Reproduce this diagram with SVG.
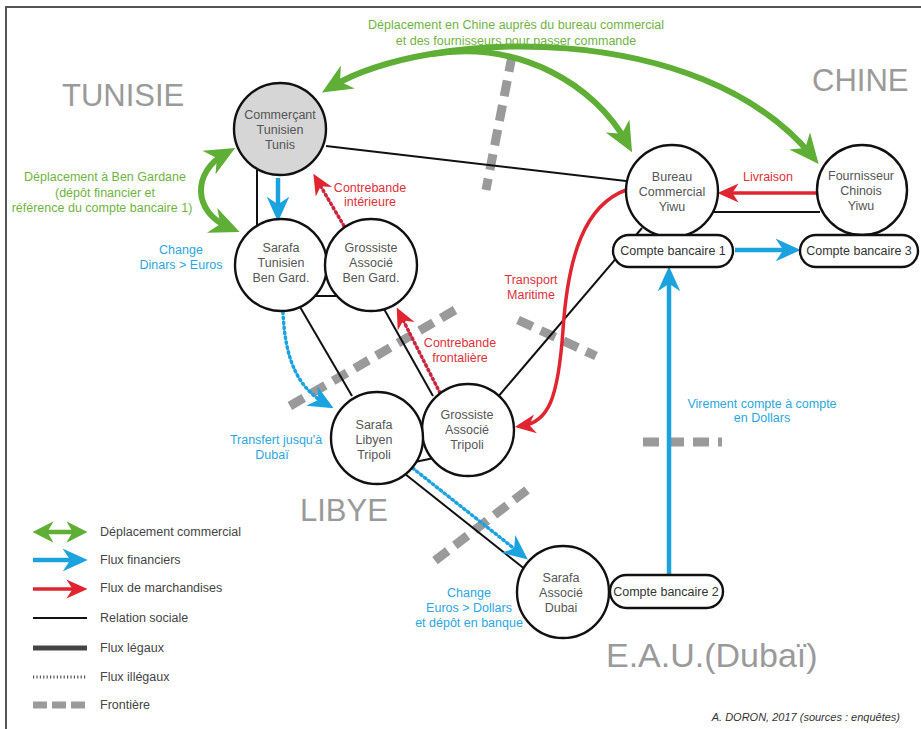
<svg xmlns="http://www.w3.org/2000/svg" width="921" height="729" viewBox="0 0 921 729">
<style>
text{font-family:"Liberation Sans","Open Sans",Arial,sans-serif;font-size:12.5px}
.node circle{fill:#fff;stroke:#111;stroke-width:2.4}
.node rect{fill:#fff;stroke:#111;stroke-width:2.4}
.nt{fill:#555;text-anchor:middle}
.region{fill:#9a9a9a;font-size:31px}
.soc{stroke:#111;stroke-width:2;fill:none}
.green{stroke:#5fae35;stroke-width:6;fill:none}
.blue{stroke:#1ba3df;stroke-width:4.5;fill:none}
.bluedot{stroke:#1ba3df;stroke-width:3.5;fill:none;stroke-dasharray:1.5 3.5;stroke-linecap:round}
.red{stroke:#e02430;stroke-width:3.5;fill:none}
.reddot{stroke:#c8283e;stroke-width:3.5;fill:none;stroke-dasharray:1.5 3.5;stroke-linecap:round}
.front{stroke:#9a9a9a;stroke-width:9;fill:none;stroke-dasharray:16 9}
.lg{fill:#6fb33f;text-anchor:middle}
.lb{fill:#2ba6e0;text-anchor:middle}
.lr{fill:#e0303a;text-anchor:middle}
.leg{fill:#444}
</style>
<defs>
<marker id="mg" viewBox="0 0 20 20" refX="13" refY="10" markerWidth="30" markerHeight="30" markerUnits="userSpaceOnUse" orient="auto-start-reverse"><path d="M0,1 L20,10 L0,19 L6,10 z" fill="#5fae35"/></marker>
<marker id="mgs" viewBox="0 0 20 20" refX="13" refY="10" markerWidth="21" markerHeight="24" markerUnits="userSpaceOnUse" orient="auto-start-reverse" preserveAspectRatio="none"><path d="M0,1 L20,10 L0,19 L6,10 z" fill="#5fae35"/></marker>
<marker id="mb" viewBox="0 0 20 20" refX="13" refY="10" markerWidth="25" markerHeight="25" markerUnits="userSpaceOnUse" orient="auto-start-reverse"><path d="M0,1 L20,10 L0,19 L6,10 z" fill="#1ba3df"/></marker>
<marker id="mr" viewBox="0 0 20 20" refX="13" refY="10" markerWidth="21" markerHeight="21" markerUnits="userSpaceOnUse" orient="auto-start-reverse"><path d="M0,1 L20,10 L0,19 L6,10 z" fill="#e02430"/></marker>
</defs>
<rect x="0" y="0" width="921" height="729" fill="#fff"/>
<path d="M6,729 L6,7 L921,7" fill="none" stroke="#555" stroke-width="2"/>

<!-- frontiers -->
<g id="frontieres">
<path class="front" d="M512,56 L486,190"/>
<path class="front" d="M455,310 L283,410"/>
<path class="front" d="M518,320 L596,356"/>
<path class="front" d="M527,490 L428,566"/>
<path class="front" d="M643,442 L722,442"/>
</g>

<!-- region labels -->
<text class="region" x="62" y="106">TUNISIE</text>
<text class="region" x="812" y="91">CHINE</text>
<text class="region" x="300" y="521">LIBYE</text>
<text class="region" x="606" y="667" style="font-size:34px">E.A.U.(Dubaï)</text>

<g id="connectors">
<!-- social relations -->
<path class="soc" d="M326,146 L626,181"/>
<path class="soc" d="M257,170 L257,229"/>
<path class="soc" d="M307,296 L346,296"/>
<path class="soc" d="M300,307 L352,396"/>
<path class="soc" d="M384,309 L433,396"/>
<path class="soc" d="M497,398 L642,228"/>
<path class="soc" d="M410,463 L434,458"/>
<path class="soc" d="M400,470 L526,570"/>
<path class="soc" d="M713,212 L820,212"/>
<!-- green -->
<path class="green" d="M331,87 C430,28 700,20 812,156" marker-start="url(#mg)" marker-end="url(#mg)"/>
<path class="green" d="M432,54 C520,40 595,85 627,143" marker-end="url(#mg)"/>
<path class="green" d="M226,153 C192,172 192,212 230,228" marker-start="url(#mg)" marker-end="url(#mg)"/>
<!-- blue -->
<path class="blue" d="M278,178 L278,213" marker-end="url(#mb)"/>
<path class="bluedot" d="M283,312 C285,360 298,388 326,404" marker-end="url(#mb)"/>
<path class="bluedot" d="M405,462 L521,554" marker-end="url(#mb)"/>
<path class="blue" d="M669,574 L669,275" marker-end="url(#mb)"/>
<path class="blue" d="M735,250 L792,250" marker-end="url(#mb)"/>
<!-- red -->
<path class="red" d="M818,193 L725,193" marker-end="url(#mr)"/>
<path class="red" d="M626,190 C585,205 568,255 563,330 C558,400 548,422 522,426" marker-end="url(#mr)"/>
<path class="reddot" d="M440,393 L400,314" marker-end="url(#mr)"/>
<path class="reddot" d="M344,226 L317,180" marker-end="url(#mr)"/>
</g>

<!-- nodes -->
<g id="n-tunis" class="node"><circle cx="280" cy="129" r="46" style="fill:#d6d6d6"/><text class="nt" x="280" y="119">Commerçant</text><text class="nt" x="280" y="134">Tunisien</text><text class="nt" x="280" y="149">Tunis</text></g>
<g id="n-bureau" class="node"><circle cx="672" cy="191" r="46"/><text class="nt" x="672" y="181">Bureau</text><text class="nt" x="672" y="196">Commercial</text><text class="nt" x="672" y="211">Yiwu</text></g>
<g id="n-fournisseur" class="node"><circle cx="862" cy="190" r="45"/><text class="nt" x="861" y="180">Fournisseur</text><text class="nt" x="861" y="195">Chinois</text><text class="nt" x="861" y="210">Yiwu</text></g>
<g id="n-cb1" class="node"><rect x="613" y="235" width="120" height="32" rx="16"/><text class="nt" x="673" y="255" style="fill:#333">Compte bancaire 1</text></g>
<g id="n-cb3" class="node"><rect x="800" y="235" width="118" height="32" rx="16"/><text class="nt" x="859" y="255" style="fill:#333">Compte bancaire 3</text></g>
<g id="n-sarafa-tn" class="node"><circle cx="281" cy="265" r="46"/><text class="nt" x="281" y="252">Sarafa</text><text class="nt" x="281" y="267">Tunisien</text><text class="nt" x="281" y="282">Ben Gard.</text></g>
<g id="n-grossiste-bg" class="node"><circle cx="371" cy="265" r="46"/><text class="nt" x="371" y="252">Grossiste</text><text class="nt" x="371" y="267">Associé</text><text class="nt" x="371" y="282">Ben Gard.</text></g>
<g id="n-grossiste-tripoli" class="node"><circle cx="468" cy="430" r="46"/><text class="nt" x="467" y="419">Grossiste</text><text class="nt" x="467" y="434">Associé</text><text class="nt" x="467" y="449">Tripoli</text></g>
<g id="n-sarafa-libyen" class="node"><circle cx="377" cy="438" r="46"/><text class="nt" x="374" y="429">Sarafa</text><text class="nt" x="374" y="444">Libyen</text><text class="nt" x="374" y="459">Tripoli</text></g>
<g id="n-sarafa-dubai" class="node"><circle cx="563" cy="592" r="46"/><text class="nt" x="561" y="582">Sarafa</text><text class="nt" x="561" y="597">Associé</text><text class="nt" x="561" y="612">Dubai</text></g>
<g id="n-cb2" class="node"><rect x="610" y="575" width="113" height="33" rx="16.5"/><text class="nt" x="666" y="596" style="fill:#333">Compte bancaire 2</text></g>

<!-- annotations -->
<text class="lg" x="516" y="29">Déplacement en Chine auprès du bureau commercial</text>
<text class="lg" x="516" y="45">et des fournisseurs pour passer commande</text>
<text class="lg" x="105" y="181">Déplacement à Ben Gardane</text>
<text class="lg" x="105" y="197">(dépôt financier et</text>
<text class="lg" x="102" y="212">référence du compte bancaire 1)</text>
<text class="lb" x="181" y="254">Change</text>
<text class="lb" x="181" y="269">Dinars &gt; Euros</text>
<text class="lr" x="370" y="192">Contrebande</text>
<text class="lr" x="370" y="206">intérieure</text>
<text class="lr" x="768" y="181">Livraison</text>
<text class="lr" x="531" y="284">Transport</text>
<text class="lr" x="531" y="299">Maritime</text>
<text class="lr" x="460" y="347">Contrebande</text>
<text class="lr" x="460" y="362">frontalière</text>
<text class="lb" x="276" y="444">Transfert jusqu'à</text>
<text class="lb" x="272" y="459">Dubaï</text>
<text class="lb" x="762" y="408">Virement compte à compte</text>
<text class="lb" x="762" y="422">en Dollars</text>
<text class="lb" x="469" y="597">Change</text>
<text class="lb" x="469" y="612">Euros &gt; Dollars</text>
<text class="lb" x="469" y="627">et dépôt en banque</text>
<text x="900" y="721" text-anchor="end" style="font-style:italic;font-size:11px;fill:#333">A. DORON, 2017 (sources : enquêtes)</text>

<!-- legend -->
<g id="legend">
<path class="green" d="M40,532 L80,532" style="stroke-width:4.5" marker-start="url(#mgs)" marker-end="url(#mgs)"/>
<path class="blue" d="M33,560 L79,560" marker-end="url(#mb)"/>
<path class="red" d="M33,589 L80,589" marker-end="url(#mr)"/>
<path d="M33,618 L87,618" stroke="#111" stroke-width="2"/>
<path d="M33,648 L87,648" stroke="#444" stroke-width="5"/>
<path d="M33,677 L87,677" stroke="#555" stroke-width="3" stroke-dasharray="1.2 2.2"/>
<path d="M33,705 L87,705" stroke="#9a9a9a" stroke-width="7" stroke-dasharray="14 5"/>
<text class="leg" x="100" y="536">Déplacement commercial</text>
<text class="leg" x="100" y="564">Flux financiers</text>
<text class="leg" x="100" y="592">Flux de marchandises</text>
<text class="leg" x="100" y="622">Relation sociale</text>
<text class="leg" x="100" y="652">Flux légaux</text>
<text class="leg" x="100" y="681">Flux illégaux</text>
<text class="leg" x="100" y="709">Frontière</text>
</g>
</svg>
